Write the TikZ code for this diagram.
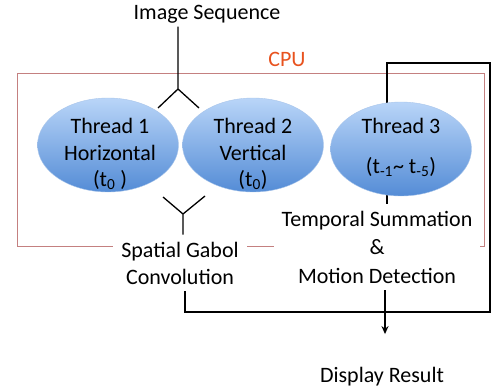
\documentclass[tikz,border=0pt]{standalone}
\usepackage{fontspec}
\setmainfont{Carlito}
\usetikzlibrary{shapes.geometric,arrows.meta}
\definecolor{cpured}{RGB}{232,82,30}
\definecolor{boxline}{RGB}{196,128,128}
\definecolor{elltop}{RGB}{185,213,248}
\definecolor{ellbot}{RGB}{84,140,214}
\begin{document}
\begin{tikzpicture}[x=1pt,y=-1pt,
  txt/.style={font=\fontsize{22}{27}\selectfont, align=center, inner sep=0pt},
  thread/.style={ellipse, minimum width=141pt, minimum height=94pt, inner sep=0pt,
    top color=elltop, bottom color=ellbot, draw=ellbot!50!white, line width=0.4pt},
  wire/.style={line width=1.3pt, black},
  cover/.style={fill=white, inner ysep=7pt}]
\useasboundingbox (0,0) rectangle (497,388);
% CPU frame
\draw[boxline, line width=0.9pt] (17,73) rectangle (484,246);
\node[txt, text=cpured] (cpu) at (287,59.5) {CPU};
% texts
\node[txt, inner sep=3.5pt] (img) at (207,14) {Image Sequence};
\node[txt, cover, inner xsep=8pt, font=\fontsize{22}{28.5}\selectfont] (temp) at (377,247)
  {Temporal Summation\\\&\\Motion Detection};
\node[txt, cover, inner xsep=8pt] (spat) at (180,263) {Spatial Gabol\\Convolution};
\node[txt, inner sep=3.3pt] (disp) at (382,377) {Display Result};
% coordinates
\coordinate (cTop) at (387,63);
\coordinate (cRight) at (490,63);
\coordinate (cBR) at (490,312);
\coordinate (cBL) at (185,312);
\coordinate (ax) at (385,0);
\coordinate (fj) at (178,89);
\coordinate (fl) at (158,108);
\coordinate (fr) at (199,108);
\coordinate (gj) at (183,214);
\coordinate (gl) at (163,197);
\coordinate (gr) at (205,196);
% wires
\draw[wire] (temp.north -| cTop) -- (cTop) -- (cRight) -- (cBR) -- (cBL) -- (spat.south -| cBL);
\draw[wire, -{Stealth[length=8pt,width=7pt]}, shorten >=30pt] (temp.south -| ax) -- (disp.north -| ax);
\draw[wire] (img.south -| fj) -- (fj) (fl) -- (fj) -- (fr);
\draw[wire] (gl) -- (gj) -- (gr) (gj) -- (spat.north -| gj);
% threads
\node[thread] (t1) at (108,145) {};
\node[thread] (t2) at (253,145) {};
\node[thread] (t3) at (401,149) {};
\node[txt, font=\fontsize{22}{26.5}\selectfont] (t1l) at (110,154)
  {Thread 1\\Horizontal\\(t\textsubscript{0} )};
\node[txt, font=\fontsize{22}{26.5}\selectfont] (t2l) at (253,154)
  {Thread 2\\Vertical\\(t\textsubscript{0})};
\node[txt, font=\fontsize{22}{40}\selectfont] (t3l) at (401,147)
  {Thread 3\\(t\textsubscript{-1}\textasciitilde{} t\textsubscript{-5})};
\end{tikzpicture}
\end{document}
